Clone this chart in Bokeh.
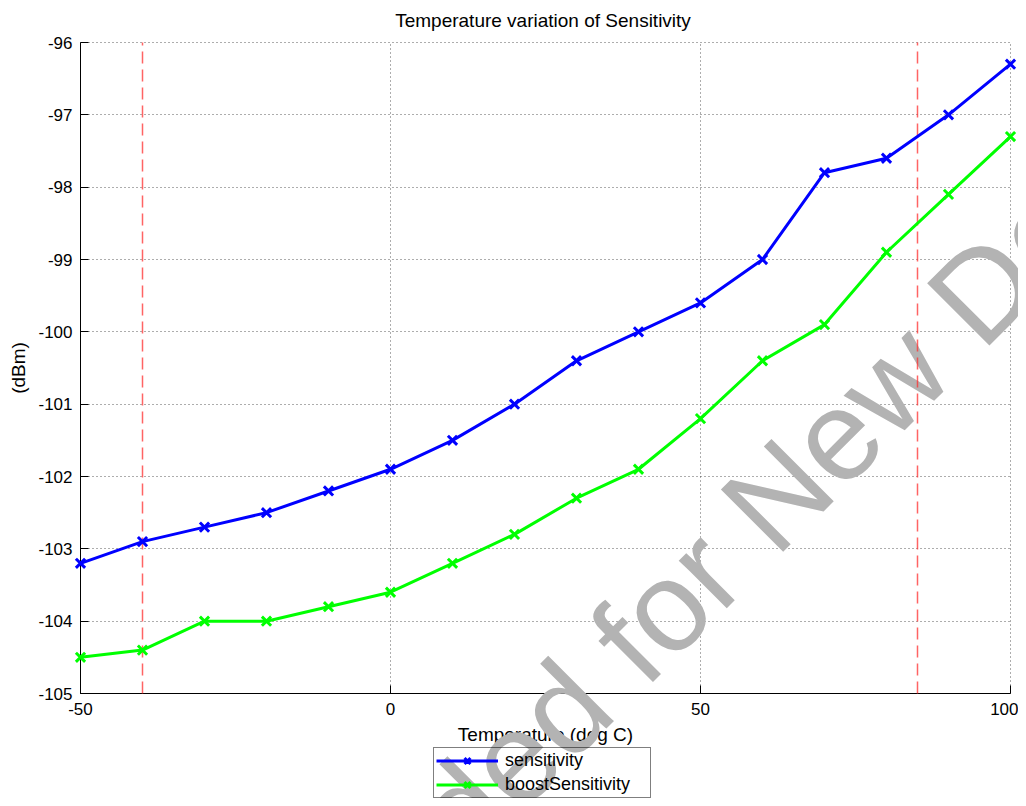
from bokeh.plotting import figure
from bokeh.models import FixedTicker, Label, Legend, LegendItem, Grid
from bokeh.embed import file_html
from bokeh.resources import INLINE

temps = [-50, -40, -30, -20, -10, 0, 10, 20, 30, 40, 50, 60, 70, 80, 90, 100]
sensitivity = [-103.2, -102.9, -102.7, -102.5, -102.2, -101.9, -101.5, -101.0,
               -100.4, -100.0, -99.6, -99.0, -97.8, -97.6, -97.0, -96.3]
boost_sensitivity = [-104.5, -104.4, -104.0, -104.0, -103.8, -103.6, -103.2, -102.8,
                     -102.3, -101.9, -101.2, -100.4, -99.9, -98.9, -98.1, -97.3]
x_ticks = [-50, 0, 50, 100]
y_ticks = [-105, -104, -103, -102, -101, -100, -99, -98, -97, -96]
limit_temps = [-40, 85]
series_names = ["sensitivity", "boostSensitivity"]
title_text = "Temperature variation of Sensitivity"
x_label = "Temperature (deg C)"
y_label = "(dBm)"
watermark_text = "Not Recommended for New Designs"

FONT = "Liberation Sans"

# geometry (pixels): axes box 930 x 651 inside a 1018 x 798 canvas.  The frame covers
# the whole canvas so that texts outside the axes box (tick labels, legend,
# watermark) are not clipped; the axes are drawn at fixed data locations.
CANVAS_W, CANVAS_H = 1018, 798
BOX_L, BOX_T, BOX_W, BOX_H = 80, 42, 930, 651
x0, x1 = x_ticks[0], x_ticks[-1]
y0, y1 = y_ticks[0], y_ticks[-1]
sx = (x1 - x0) / BOX_W
sy = (y1 - y0) / BOX_H
x_start = x0 - BOX_L * sx
x_end = x1 + (CANVAS_W - BOX_L - BOX_W) * sx
y_end = y1 + BOX_T * sy
y_start = y0 - (CANVAS_H - BOX_T - BOX_H) * sy

p = figure(width=CANVAS_W, height=CANVAS_H,
           x_range=(x_start, x_end), y_range=(y_start, y_end),
           output_backend="svg", toolbar_location=None,
           min_border_left=0, min_border_right=0,
           min_border_top=0, min_border_bottom=0)
p.outline_line_color = None
p.background_fill_color = "white"
p.border_fill_color = "white"

# title
p.add_layout(Label(x=(x0 + x1) / 2 - 0.4, y=y1 + 22 * sy, text=title_text,
                   text_font=FONT, text_font_size="19px", text_color="black",
                   text_align="center", text_baseline="middle"))

# watermark
wm = Label(x=24.6, y=-105.49, text=watermark_text, angle=45, angle_units="deg",
           text_font=FONT, text_font_size="128px", text_color="#b3b3b3",
           text_align="center", text_baseline="alphabetic")
p.add_layout(wm)

for ax in (p.xaxis[0], p.yaxis[0]):
    ax.axis_line_color = "black"
    ax.axis_line_width = 1
    ax.major_tick_in = 8
    ax.major_tick_out = 0
    ax.minor_tick_line_color = None
    ax.major_tick_line_color = "black"
    ax.major_label_text_font = FONT
    ax.major_label_text_font_size = "17px"
    ax.major_label_text_color = "black"
    ax.axis_label_text_font = FONT
    ax.axis_label_text_font_size = "19px"
    ax.axis_label_text_font_style = "normal"
    ax.axis_label_text_color = "black"

p.xaxis.ticker = FixedTicker(ticks=x_ticks)
p.yaxis.ticker = FixedTicker(ticks=y_ticks)
p.xaxis.bounds = (x0, x1)
p.yaxis.bounds = (y0, y1)
p.xaxis.fixed_location = y0
p.yaxis.fixed_location = x0
p.xaxis.major_label_overrides = {t: str(t) for t in x_ticks}
p.yaxis.major_label_overrides = {t: str(t) for t in y_ticks}
p.xaxis.axis_label = x_label
p.yaxis.axis_label = y_label
p.xaxis.major_label_standoff = 9
p.yaxis.major_label_standoff = 8
p.xaxis.axis_label_standoff = 6
p.yaxis.axis_label_standoff = 6

p.xgrid[0].ticker = FixedTicker(ticks=x_ticks)
p.ygrid[0].ticker = FixedTicker(ticks=y_ticks)
has_cross = "cross_bounds" in Grid.properties()
for g in (p.xgrid[0], p.ygrid[0]):
    g.grid_line_color = "#333333"
    g.grid_line_alpha = 0.8
    g.grid_line_dash = "1 3"
    g.grid_line_width = 1
p.xgrid[0].bounds = (x0, x1)
p.ygrid[0].bounds = (y0, y1)
if has_cross:
    p.xgrid[0].cross_bounds = (y0, y1)
    p.ygrid[0].cross_bounds = (x0, x1)
else:
    p.xgrid[0].visible = False
    p.ygrid[0].visible = False
    p.segment(x0=x_ticks, y0=[y0] * len(x_ticks), x1=x_ticks, y1=[y1] * len(x_ticks),
              line_color="#333333", line_alpha=0.8, line_dash="1 3", line_width=1,
              level="underlay")
    p.segment(x0=[x0] * len(y_ticks), y0=y_ticks, x1=[x1] * len(y_ticks), y1=y_ticks,
              line_color="#333333", line_alpha=0.8, line_dash="1 3", line_width=1,
              level="underlay")

p.segment(x0=limit_temps, y0=[y0] * len(limit_temps), x1=limit_temps,
          y1=[y1] * len(limit_temps), line_color="#ff3030", line_alpha=0.75,
          line_dash="12 6", line_width=1.5, level="overlay")

l1 = p.line(temps, sensitivity, line_color="#0000ff", line_width=3, level="overlay")
s1 = p.scatter(temps, sensitivity, marker="x", size=13, line_color="#0000ff",
               line_width=3, level="overlay")
l2 = p.line(temps, boost_sensitivity, line_color="#00ff00", line_width=3, level="overlay")
s2 = p.scatter(temps, boost_sensitivity, marker="x", size=13, line_color="#00ff00",
               line_width=3, level="overlay")

legend = Legend(items=[LegendItem(label=series_names[0], renderers=[l1, s1]),
                       LegendItem(label=series_names[1], renderers=[l2, s2])],
                location=(433, 0), orientation="vertical",
                label_text_font=FONT, label_text_font_size="18px",
                label_text_color="black",
                glyph_width=62, glyph_height=21, label_height=21, label_width=143,
                label_standoff=7, spacing=3, padding=2, margin=0,
                border_line_color="black", border_line_width=1,
                background_fill_alpha=0.0)
p.add_layout(legend)

open("out.html", "w").write(file_html(p, INLINE))
